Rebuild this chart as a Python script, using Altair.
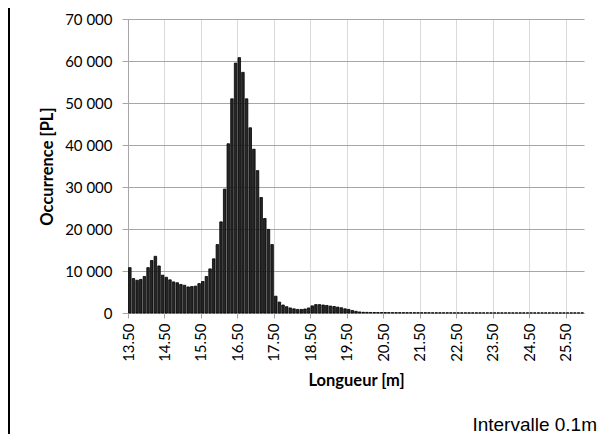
import altair as alt
import pandas as pd

# Bin starts (m), interval 0.1 m
lengths = [round(13.5 + 0.1 * i, 1) for i in range(125)]

occurrences = [
    10800, 8200, 7800, 8000, 8700,                                   # 13.5-13.9
    10800, 12500, 13500, 11200, 9000, 8500, 7900, 7400, 7200, 6800,  # 14.0-14.9
    6600, 6200, 6300, 6400, 7000, 7500, 8700, 10500, 12900, 16300,   # 15.0-15.9
    21700, 29500, 40300, 51000, 59500, 60800, 57300, 51000, 44100, 39000,  # 16.0-16.9
    33900, 27500, 22500, 19900, 16300, 4000, 2600, 1900, 1500, 1200,  # 17.0-17.9
    1000, 850, 850, 950, 1200, 1700, 2000, 2000, 1900, 1800,          # 18.0-18.9
    1650, 1550, 1400, 1250, 1000, 850, 600, 400, 250, 170,            # 19.0-19.9
    150,                                                              # 20.0
    130, 120, 110, 100, 100, 90, 90, 80, 80,                          # 20.1-20.9
    80, 70, 70, 70, 60, 60, 60, 60, 50, 50,                           # 21.0-21.9
    50, 50, 50, 50, 40, 40, 40, 40, 40, 40,                           # 22.0-22.9
    40, 40, 30, 30, 30, 30, 30, 30, 30, 30,                           # 23.0-23.9
    30, 30, 30, 30, 30, 30, 30, 30, 30, 30,                           # 24.0-24.9
    30, 30, 30, 30, 30, 30, 30, 30, 30, 30,                           # 25.0-25.9
]

x_ticks = [13.5, 14.5, 15.5, 16.5, 17.5, 18.5, 19.5, 20.5, 21.5, 22.5, 23.5, 24.5, 25.5]
y_ticks = [0, 10000, 20000, 30000, 40000, 50000, 60000, 70000]

df = pd.DataFrame({"start": lengths, "count": occurrences})

bars = (
    alt.Chart(df)
    .transform_calculate(x0="datum.start + 0.015", x1="datum.start + 0.085")
    .mark_bar(fill="#262626", stroke="#000000", strokeWidth=0.8)
    .encode(
        x=alt.X(
            "x0:Q",
            scale=alt.Scale(domain=[13.5, 26.0], nice=False, zero=False),
            axis=alt.Axis(
                values=x_ticks,
                format=".2f",
                labelAngle=-90,
                labelAlign="right",
                labelBaseline="middle",
                labelFont="Lato",
                labelFontSize=15,
                labelColor="#000000",
                labelPadding=5,
                labelFlush=False,
                labelOverlap=False,
                tickSize=5,
                tickColor="#a6a6a6",
                domainColor="#a6a6a6",
                grid=True,
                gridColor="#d9d9d9",
                title="Longueur [m]",
                titleFont="Lato",
                titleFontSize=16.5,
                titleFontWeight="bold",
                titleColor="#000000",
                titlePadding=11,
            ),
        ),
        x2="x1:Q",
        y=alt.Y(
            "count:Q",
            scale=alt.Scale(domain=[0, 70000], nice=False),
            axis=alt.Axis(
                values=y_ticks,
                labelExpr="replace(format(datum.value, ','), ',', ' ')",
                labelFont="Lato",
                labelFontSize=15,
                labelColor="#000000",
                labelPadding=10,
                tickSize=6,
                tickColor="#a6a6a6",
                domainColor="#a6a6a6",
                grid=True,
                gridColor="#a6a6a6",
                title="Occurrence [PL]",
                titleFont="Lato",
                titleFontSize=16.5,
                titleFontWeight="bold",
                titleColor="#000000",
                titlePadding=9,
            ),
        ),
        y2=alt.datum(0),
    )
)

note = (
    alt.Chart(pd.DataFrame({"t": ["Intervalle 0.1m"]}))
    .mark_text(align="right", baseline="alphabetic", font="Liberation Sans", fontSize=19, color="#000000")
    .encode(text="t:N", x=alt.value(469), y=alt.value(412))
)

border = (
    alt.Chart(pd.DataFrame({"a": [0]}))
    .mark_rule(color="#000000", strokeWidth=2)
    .encode(x=alt.value(-119), y=alt.value(-11), y2=alt.value(415))
)

chart = (
    alt.layer(bars, note, border)
    .properties(
        width=456,
        height=294,
        autosize=alt.AutoSizeParams(type="none"),
        padding={"left": 120, "top": 11, "right": 14, "bottom": 121},
        background="white",
    )
    .configure_view(stroke=None)
)

chart.save("out.html", embed_options={"renderer": "svg", "actions": False})
